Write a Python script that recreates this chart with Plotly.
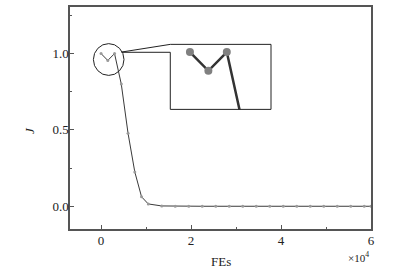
import plotly.graph_objects as go

# Data (FEs in units of 1e4)
fes = [0.0, 0.15, 0.30, 0.45, 0.60, 0.75, 0.90, 1.05, 1.35, 1.65, 1.95, 2.25, 2.55,
       2.85, 3.15, 3.45, 3.75, 4.05, 4.35, 4.65, 4.95, 5.25, 5.55, 5.85, 6.00]
J = [1.0, 0.955, 1.0, 0.80, 0.478, 0.225, 0.062, 0.015, 0.002, 0.0, 0.0, 0.0, 0.0,
     0.0, 0.0, 0.0, 0.0, 0.0, 0.0, 0.0, 0.0, 0.0, 0.0, 0.0, 0.0]
x_ticks = [0, 2, 4, 6]
y_ticks = [0.0, 0.5, 1.0]
y_ticklabels = ["0.0", "0.5", "1.0"]

xr = [-0.69, 6.0]
yr = [-0.149, 1.305]
inset_xr = [-0.16, 0.66]
inset_yr = [0.8625, 1.0184]
inset_xdom = [0.3332, 0.6678]
inset_ydom = [0.5388, 0.8317]
notch_y = 0.796

def px(x):
    return (x - xr[0]) / (xr[1] - xr[0])

def py(y):
    return (y - yr[0]) / (yr[1] - yr[0])

font_fam = "Liberation Serif, Times New Roman, serif"
axcol = "#555555"

fig = go.Figure()
fig.add_trace(go.Scatter(x=fes, y=J, mode="lines+markers",
                         line=dict(color="#3a3a3a", width=1),
                         marker=dict(color="#9a9a9a", size=3),
                         showlegend=False))
fig.add_trace(go.Scatter(x=fes, y=J, mode="lines+markers", xaxis="x2", yaxis="y2",
                         line=dict(color="#333333", width=2.5),
                         marker=dict(color="#808080", size=8),
                         showlegend=False))

# circle around the first points
cx, cy, rx, ry = 0.17, 0.961, 0.34, 0.104
fig.add_shape(type="circle", xref="x", yref="y", x0=cx - rx, x1=cx + rx,
              y0=cy - ry, y1=cy + ry, line=dict(color="#222222", width=1))
# connector + inset box
sx, sy = px(0.458), py(1.010)
path = (f"M {sx},{sy} L {inset_xdom[0]},{inset_ydom[1]} L {inset_xdom[1]},{inset_ydom[1]} "
        f"L {inset_xdom[1]},{inset_ydom[0]} L {inset_xdom[0]},{inset_ydom[0]} "
        f"L {inset_xdom[0]},{notch_y} L {sx},{notch_y}")
fig.add_shape(type="path", xref="paper", yref="paper", path=path,
              line=dict(color="#222222", width=1))

fig.update_layout(
    width=404, height=275,
    margin=dict(l=70, r=33, t=5, b=46),
    paper_bgcolor="white", plot_bgcolor="white",
    font=dict(family=font_fam, size=13, color="#222222"),
    xaxis=dict(range=xr, tickvals=x_ticks, ticks="inside", ticklen=4,
               tickcolor=axcol, showline=True, linecolor=axcol, linewidth=1.5,
               mirror=True, showgrid=False, zeroline=False, ticklabelstandoff=-1,
               minor=dict(dtick=1, tick0=0, ticklen=2, tickcolor=axcol, ticks="inside")),
    yaxis=dict(range=yr, tickvals=y_ticks, ticktext=y_ticklabels, ticks="inside",
               ticklen=4, tickcolor=axcol, showline=True, linecolor=axcol,
               linewidth=1.5, mirror=True, showgrid=False, zeroline=False,
               ticklabelstandoff=-3,
               minor=dict(dtick=0.25, tick0=0, ticklen=2, tickcolor=axcol, ticks="inside")),
    xaxis2=dict(domain=inset_xdom, anchor="y2", range=inset_xr, showticklabels=False,
                showgrid=False, zeroline=False, showline=False, ticks=""),
    yaxis2=dict(domain=inset_ydom, anchor="x2", range=inset_yr, showticklabels=False,
                showgrid=False, zeroline=False, showline=False, ticks=""),
    annotations=[
        dict(text="FEs", xref="paper", yref="paper", x=0.5, y=-0.147,
             showarrow=False, font=dict(size=13), xanchor="center", yanchor="middle"),
        dict(text="×10<sup>4</sup>", xref="paper", yref="paper", x=1.0, y=-0.125,
             showarrow=False, font=dict(size=11), xanchor="right", yanchor="middle"),
        dict(text="<i>J</i>", xref="paper", yref="paper", x=-0.133, y=0.446,
             showarrow=False, font=dict(size=13), textangle=-90,
             xanchor="center", yanchor="middle"),
    ],
)

fig.write_html("out.html")
